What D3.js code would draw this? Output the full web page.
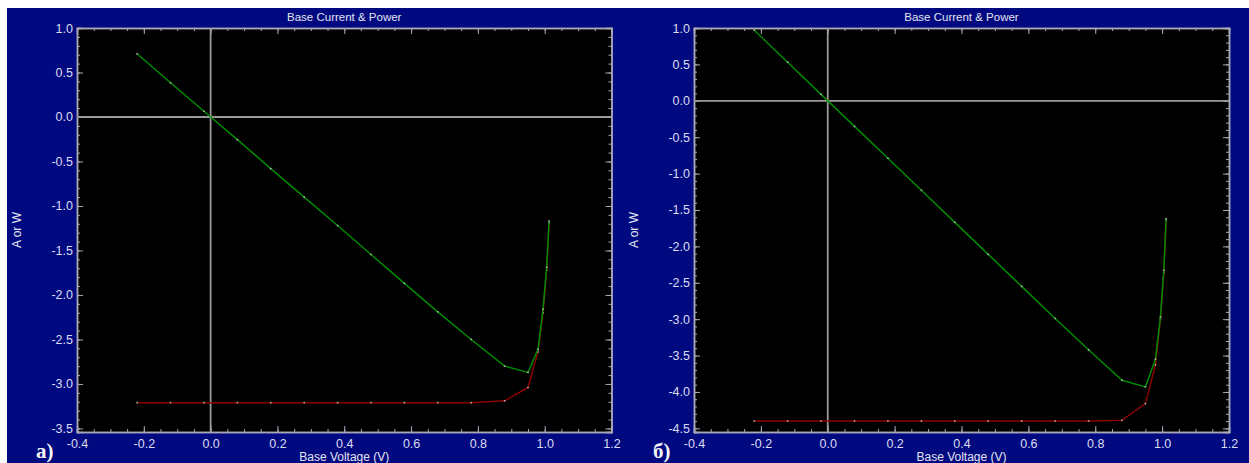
<!DOCTYPE html>
<html>
<head>
<meta charset="utf-8">
<script src="https://cdn.jsdelivr.net/npm/d3@7"></script>
<style>
  body { margin: 0; background: #fff; }
  svg { display: block; }
  .tick text { fill: #dcdcf2; font-family: "Liberation Sans", Arial, sans-serif; font-size: 12.5px; }
</style>
</head>
<body>
<div id="chart-container"></div>
<script>
// size of the whole picture
const width = 1249;
const height = 463;

// voltage points (V)
const voltageA = [-0.22, -0.12, -0.02, 0.08, 0.18, 0.28, 0.38, 0.48, 0.58, 0.68, 0.78, 0.88, 0.95, 0.98, 0.995, 1.006, 1.013];
const voltageB = [-0.22, -0.12, -0.02, 0.08, 0.18, 0.28, 0.38, 0.48, 0.58, 0.68, 0.78, 0.88, 0.95, 0.98, 0.995, 1.005, 1.012];

// panel a) values (A or W)
const greenA = [0.71, 0.385, 0.065, -0.255, -0.58, -0.90, -1.22, -1.545, -1.87, -2.19, -2.50, -2.80, -2.87, -2.61, -2.16, -1.69, -1.17];
const redA = [-3.21, -3.21, -3.21, -3.21, -3.21, -3.21, -3.21, -3.21, -3.21, -3.21, -3.21, -3.19, -3.04, -2.64, -2.20, -1.72, -1.19];

// panel б) values (A or W)
const greenB = [0.97, 0.53, 0.088, -0.352, -0.79, -1.23, -1.67, -2.11, -2.55, -2.99, -3.42, -3.84, -3.93, -3.55, -2.97, -2.33, -1.62];
const redB = [-4.40, -4.40, -4.40, -4.40, -4.40, -4.40, -4.40, -4.40, -4.40, -4.40, -4.40, -4.39, -4.16, -3.63, -3.00, -2.36, -1.64];

// tick labels
const xTicks = [-0.4, -0.2, 0.0, 0.2, 0.4, 0.6, 0.8, 1.0, 1.2];
const yTicksA = [1.0, 0.5, 0.0, -0.5, -1.0, -1.5, -2.0, -2.5, -3.0, -3.5];
const yTicksB = [1.0, 0.5, 0.0, -0.5, -1.0, -1.5, -2.0, -2.5, -3.0, -3.5, -4.0, -4.5];

const svg = d3.select("#chart-container")
  .append("svg")
  .attr("width", width)
  .attr("height", height);

// navy background behind both panels
svg.append("rect")
  .attr("x", 7).attr("y", 8)
  .attr("width", width - 7).attr("height", height - 8)
  .attr("fill", "#010980");

function drawPanel(p) {
  const x = d3.scaleLinear().domain([-0.4, 1.2]).range([p.left, p.right]);
  const y = d3.scaleLinear().domain(p.yDomain).range([432, 28]);
  const g = svg.append("g");

  g.append("rect")
    .attr("x", p.left).attr("y", 28)
    .attr("width", p.right - p.left).attr("height", 404)
    .attr("fill", "#000");

  // minor ticks
  const xMinor = d3.range(-0.4, 1.2001, 0.05).map(v => +v.toFixed(2));
  const yMinor = d3.range(p.yDomain[1], p.yDomain[0], -0.1).map(v => +v.toFixed(2));

  const styleAxis = sel => {
    sel.select(".domain").attr("stroke", "#a8a8b8").attr("stroke-width", 1.5);
    sel.selectAll(".tick line").attr("stroke", "#a8a8b8");
  };

  const axes = [
    [d3.axisBottom(x).tickValues(xMinor).tickSize(-3).tickFormat(""), `translate(0,432)`],
    [d3.axisTop(x).tickValues(xMinor).tickSize(-3).tickFormat(""), `translate(0,28)`],
    [d3.axisLeft(y).tickValues(yMinor).tickSize(-3).tickFormat(""), `translate(${p.left},0)`],
    [d3.axisRight(y).tickValues(yMinor).tickSize(-3).tickFormat(""), `translate(${p.right},0)`],
    [d3.axisTop(x).tickValues(xTicks).tickSize(-6).tickFormat(""), `translate(0,28)`],
    [d3.axisRight(y).tickValues(p.yTicks).tickSize(-6).tickFormat(""), `translate(${p.right},0)`],
    [d3.axisBottom(x).tickValues(xTicks).tickSize(-6).tickPadding(7).tickFormat(d3.format(".1f")), `translate(0,432)`],
    [d3.axisLeft(y).tickValues(p.yTicks).tickSize(-6).tickPadding(4).tickFormat(d3.format(".1f")), `translate(${p.left},0)`]
  ];
  axes.forEach(([ax, tr]) => g.append("g").attr("transform", tr).call(ax).call(styleAxis));
  g.selectAll(".tick text").text(function () { return this.textContent.replace("−", "-"); });

  // zero lines
  g.append("line")
    .attr("x1", p.left).attr("x2", p.right)
    .attr("y1", y(0)).attr("y2", y(0))
    .attr("stroke", "#9a9a9a").attr("stroke-width", 1.8);
  g.append("line")
    .attr("x1", x(0)).attr("x2", x(0))
    .attr("y1", 28).attr("y2", 432)
    .attr("stroke", "#9a9a9a").attr("stroke-width", 1.8);

  const line = d3.line().x(d => x(d[0])).y(d => y(d[1]));
  const series = [
    { vals: p.red, color: "#8a0000" },
    { vals: p.green, color: "#008a00" }
  ];
  series.forEach(s => {
    const pts = p.volt.map((v, i) => [v, s.vals[i]]);
    g.append("path")
      .datum(pts)
      .attr("d", line)
      .attr("fill", "none")
      .attr("stroke", s.color)
      .attr("stroke-width", 1.5);
    g.selectAll(null)
      .data(pts)
      .enter()
      .append("rect")
      .attr("x", d => x(d[0]) - 0.75)
      .attr("y", d => y(d[1]) - 0.75)
      .attr("width", 1.5).attr("height", 1.5)
      .attr("fill", "#c0c0c0");
  });

  const cx = (p.left + p.right) / 2;
  g.append("text")
    .attr("x", cx).attr("y", 21)
    .attr("text-anchor", "middle")
    .attr("fill", "#e4e4f0")
    .style("font-family", "Liberation Sans, Arial, sans-serif")
    .style("font-size", "11.5px")
    .text("Base Current & Power");

  g.append("text")
    .attr("x", cx).attr("y", 461)
    .attr("text-anchor", "middle")
    .attr("fill", "#e4e4f0")
    .style("font-family", "Liberation Sans, Arial, sans-serif")
    .style("font-size", "12px")
    .text("Base Voltage (V)");

  g.append("text")
    .attr("transform", `translate(${p.left - 56},230) rotate(-90)`)
    .attr("text-anchor", "middle")
    .attr("fill", "#e4e4f0")
    .style("font-family", "Liberation Sans, Arial, sans-serif")
    .style("font-size", "12px")
    .text("A or W");

  g.append("text")
    .attr("x", p.left - 41).attr("y", 458)
    .attr("fill", "#f4f4f4")
    .style("font-family", "Liberation Serif, Times New Roman, serif")
    .style("font-weight", "bold")
    .style("font-size", "21px")
    .text(p.letter);
}

drawPanel({ left: 77, right: 611.5, yDomain: [-3.54, 1.0], yTicks: yTicksA,
  volt: voltageA, green: greenA, red: redA, letter: "a)" });
drawPanel({ left: 694, right: 1229, yDomain: [-4.55, 1.0], yTicks: yTicksB,
  volt: voltageB, green: greenB, red: redB, letter: "б)" });
</script>
</body>
</html>
